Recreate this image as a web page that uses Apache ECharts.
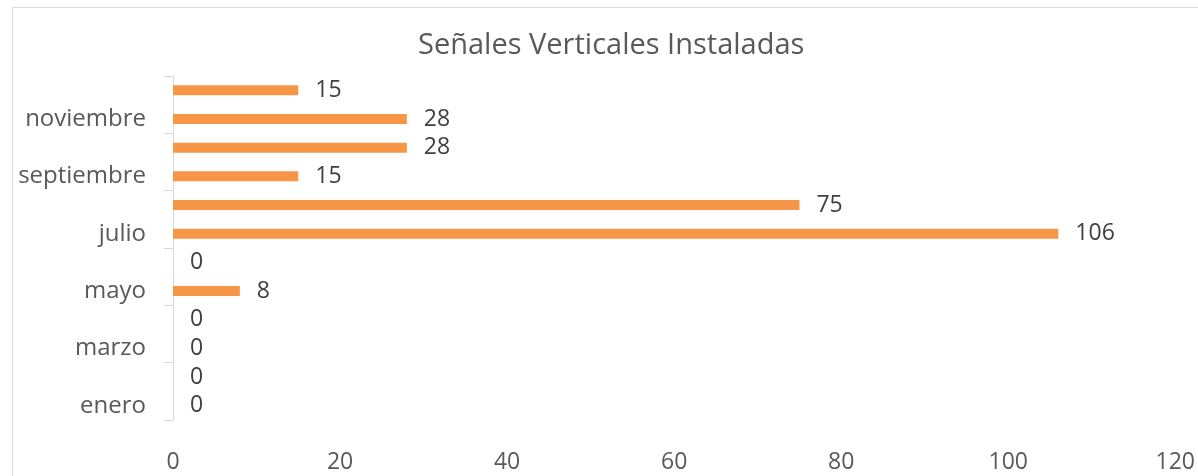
<!DOCTYPE html>
<html>
<head>
<meta charset="utf-8">
<script src="https://cdn.jsdelivr.net/npm/echarts@6/dist/echarts.min.js"></script>
<style>
  html, body { margin: 0; padding: 0; background: #fff; }
  #chart { width: 1198px; height: 476px; }
</style>
</head>
<body>
<div id="chart"></div>
<script>
// meses de abajo hacia arriba
const months = ['enero', 'febrero', 'marzo', 'abril', 'mayo', 'junio', 'julio', 'agosto', 'septiembre', 'octubre', 'noviembre', 'diciembre']
const installed = [0, 0, 0, 0, 8, 0, 106, 75, 15, 28, 28, 15]
const xTicks = [0, 20, 40, 60, 80, 100, 120]

const textColor = '#595959'
const fontFamily = 'Open Sans, sans-serif'

const chart = echarts.init(document.getElementById('chart'))

const option = {
  animation: false,
  title: {
    text: 'Señales Verticales Instaladas',
    left: 418,
    top: 31,
    padding: 0,
    textStyle: {
      fontFamily,
      fontWeight: 'normal',
      fontSize: 29,
      color: textColor
    }
  },
  graphic: [
    {
      type: 'rect',
      shape: { x: 12.5, y: 7.5, width: 1200, height: 480 },
      style: { fill: 'none', stroke: '#d9d9d9', lineWidth: 1 }
    }
  ],
  grid: {
    left: 173,
    right: 21,
    top: 76,
    bottom: 56
  },
  xAxis: {
    type: 'value',
    min: xTicks[0],
    max: xTicks[xTicks.length - 1],
    interval: 20,
    axisLine: { show: false },
    axisTick: { show: false },
    splitLine: { show: false },
    axisLabel: {
      margin: 31,
      fontFamily,
      fontSize: 23,
      color: textColor
    }
  },
  yAxis: {
    type: 'category',
    data: months,
    axisLine: {
      show: true,
      lineStyle: { color: '#d9d9d9', width: 1 }
    },
    axisTick: {
      show: true,
      length: 9,
      lineStyle: { color: '#d9d9d9' }
    },
    axisLabel: {
      interval: 1,
      margin: 27,
      fontFamily,
      fontSize: 24,
      color: textColor
    }
  },
  series: [
    {
      type: 'bar',
      data: installed,
      barWidth: 10,
      itemStyle: { color: '#f79646' },
      label: {
        show: true,
        position: 'right',
        distance: 17,
        fontFamily,
        fontSize: 23,
        color: '#404040'
      }
    }
  ]
}

chart.setOption(option)
</script>
</body>
</html>
